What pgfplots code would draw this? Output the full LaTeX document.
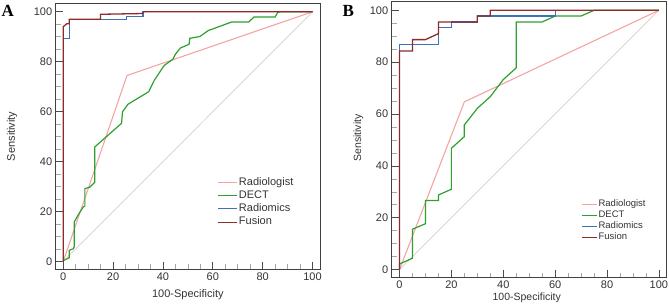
\documentclass[border=0pt]{standalone}
\usepackage{fontspec}
\setmainfont{Liberation Serif}
\setsansfont{Liberation Sans}
\usepackage{pgfplots}
\pgfplotsset{compat=1.18}

\definecolor{cRad}{HTML}{F5A3A3}
\definecolor{cDect}{HTML}{2EA02E}
\definecolor{cRmx}{HTML}{3D72B8}
\definecolor{cFus}{HTML}{8E2B2B}
\definecolor{cDiag}{HTML}{D9CCCC}
\definecolor{cTxt}{HTML}{333333}

\pgfplotsset{
  rocaxis/.style={
    scale only axis,
    anchor=north west,
    xmin=-3, xmax=103, ymin=-3.1, ymax=103.4,
    xtick={0,20,...,100}, ytick={0,20,...,100},
    minor tick num=3,
    tick pos=left,
    tick align=inside,
    major tick length=7.6pt,
    minor tick length=5pt,
    every major tick/.style={draw=black!70, line width=0.8pt},
    every minor tick/.style={draw=black!35, line width=0.7pt},
    axis line style={draw=black!75, line width=0.8pt},
    /pgf/number format/assume math mode=true,
    tick label style={font=\sffamily\fontsize{11}{13}\selectfont, text=cTxt},
    xlabel={100-Specificity},
    ylabel={Sensitivity},
    legend cell align=left,
    legend image code/.code={\draw[#1] (0pt,0pt) -- (18.5pt,0pt);},
  },
}

\begin{document}
\begin{tikzpicture}

% ---------------- Panel A ----------------
\begin{axis}[rocaxis,
  at={(55.7pt,-3.3pt)}, width=264.3pt, height=266pt,
  label style={font=\sffamily\fontsize{11}{13}\selectfont, text=cTxt},
  xlabel style={at={(axis description cs:0.5,-0.0966)}, anchor=center},
  ylabel style={at={(axis description cs:-0.1653,0.5)}, anchor=center},
  legend style={at={(axis description cs:0.612,0.353)}, anchor=north west,
    draw=none, fill=none, inner sep=0pt, row sep=0pt,
    font=\sffamily\fontsize{11}{13}\selectfont, text=cTxt,
    nodes={inner sep=1.5pt, text height=7.9pt, text depth=2.4pt}},
]
% chance line
\addplot[color=cDiag, line width=0.7pt, forget plot] coordinates {(0,0) (100,100)};
% Radiologist
\addplot[color=cRad, line width=1.1pt] coordinates {(0,0) (25.6,74.5) (100,100)};
% DECT
\addplot[color=cDect, line width=1.2pt] coordinates {
  (0,0) (0.3,0.5) (2.4,1.5) (2.4,4.5) (4,5.1) (4.4,5.8) (4.4,15.8)
  (6.7,19.8) (8,21.8) (8.7,22.2) (8.7,29.2) (10.7,29.8) (12.7,31.8)
  (12.7,45.9) (23,55) (23.4,55.3) (23.8,60) (26,63) (34.3,68)
  (36.5,72.5) (40.5,78.5) (44,81) (45,83) (47,85.5) (50.5,87)
  (50.8,89.4) (54.8,90.1) (58.2,92.5) (60.2,93.2) (67.5,95.9)
  (74.4,95.9) (76.5,97.9) (85,97.9) (86,99.7) (87,100) (100,100)};
% Radiomics
\addplot[color=cRmx, line width=1.2pt] coordinates {
  (0,0) (0,89.2) (2.4,89.2) (2.4,97) (25.5,97) (25.5,98) (32,98)
  (32,100) (100,100)};
% Fusion
\addplot[color=cFus, line width=1.3pt] coordinates {
  (0,0) (0,94) (1.4,95.2) (2.4,95.2) (2.4,97) (15,97) (15,99)
  (31.5,99.3) (32.5,100) (100,100)};
\legend{Radiologist, DECT, Radiomics, Fusion}
\end{axis}

% ---------------- Panel B ----------------
\begin{axis}[rocaxis,
  at={(391.7pt,-1.5pt)}, width=275pt, height=276.2pt,
  label style={font=\sffamily\fontsize{10.5}{12}\selectfont, text=cTxt},
  xlabel style={at={(axis description cs:0.491,-0.0745)}, anchor=center},
  ylabel style={at={(axis description cs:-0.1215,0.506)}, anchor=center},
  legend style={at={(axis description cs:0.688,0.2868)}, anchor=north west,
    draw=none, fill=none, inner sep=0pt, row sep=0pt,
    font=\sffamily\fontsize{9.5}{11}\selectfont, text=cTxt,
    nodes={inner sep=1.2pt, text height=6.6pt, text depth=2pt}},
  legend image code/.code={\draw[#1] (0pt,0pt) -- (15pt,0pt);},
]
% chance line
\addplot[color=cDiag, line width=0.7pt, forget plot] coordinates {(0,0) (100,100)};
% Radiologist
\addplot[color=cRad, line width=1.1pt] coordinates {(0,0) (25,64.7) (100,100)};
% DECT
\addplot[color=cDect, line width=1.2pt] coordinates {
  (0,0) (0,2.2) (5,4.4) (5,15.6) (10,17.7) (10,26.7) (15,26.7)
  (15,28.8) (20,31) (20,46.8) (25,51.3) (25,55.8) (30,62.2)
  (35,66.7) (40,73.3) (45,77.8) (45,95.5) (55,95.5) (60,97.8)
  (70,97.8) (75,100) (100,100)};
% Radiomics
\addplot[color=cRmx, line width=1.2pt] coordinates {
  (0,0) (0,86.8) (15,86.8) (15,93.4) (20,93.4) (20,95.5) (30,95.5)
  (30,97.8) (60,97.8) (60,100) (100,100)};
% Fusion
\addplot[color=cFus, line width=1.3pt] coordinates {
  (0,0) (0,84.3) (5,84.3) (5,88.7) (10,88.7) (15,91) (15,95.5)
  (30,95.5) (30,97.8) (35,97.8) (35,100) (100,100)};
\legend{Radiologist, DECT, Radiomics, Fusion}
\end{axis}

% panel letters
\node[anchor=base west, inner sep=0pt, font=\bfseries\fontsize{17}{17}\selectfont] at (1.5pt,-16.7pt) {A};
\node[anchor=base west, inner sep=0pt, font=\bfseries\fontsize{17}{17}\selectfont] at (342.5pt,-16.7pt) {B};

\pgfresetboundingbox
\useasboundingbox (0pt,0pt) rectangle (669pt,-305pt);
\end{tikzpicture}
\end{document}
